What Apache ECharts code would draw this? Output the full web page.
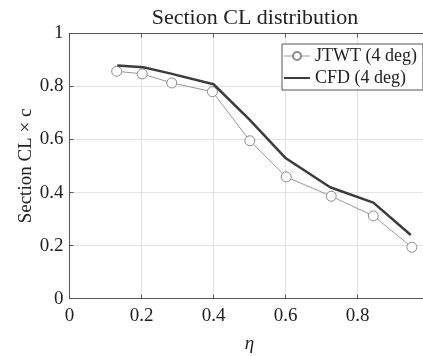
<!DOCTYPE html>
<html><head><meta charset="utf-8">
<script src="https://cdn.jsdelivr.net/npm/echarts@6/dist/echarts.min.js"></script>
<style>html,body{margin:0;padding:0;background:#fff}#c{width:423px;height:356px}</style>
</head><body><div id="c"></div>
<script>
const jtwtEta = [0.131, 0.202, 0.284, 0.397, 0.501, 0.602, 0.727, 0.844, 0.951];
const jtwtCL  = [0.857, 0.847, 0.813, 0.780, 0.595, 0.459, 0.386, 0.312, 0.194];
const cfdEta  = [0.133, 0.205, 0.279, 0.400, 0.500, 0.601, 0.724, 0.844, 0.948];
const cfdCL   = [0.879, 0.872, 0.849, 0.808, 0.675, 0.529, 0.420, 0.362, 0.240];
const xTicks = ['0', '0.2', '0.4', '0.6', '0.8', '1'];
const yTicks = ['0', '0.2', '0.4', '0.6', '0.8', '1'];

const FONT = '"Liberation Serif", "DejaVu Serif", serif';
const chart = echarts.init(document.getElementById('c'));
const axisCol = '#555';
const txt = '#222';
chart.setOption({
  animation: false,
  textStyle: { fontFamily: FONT },
  title: {
    text: 'Section CL distribution', left: 250, top: 2, textAlign: 'center',
    textStyle: { fontFamily: FONT, fontSize: 22, fontWeight: 'normal', color: txt }
  },
  legend: {
    orient: 'vertical', left: 282, top: 44, itemWidth: 26, itemHeight: 10, itemGap: 4,
    padding: [3, 6, 3, 1], borderColor: '#555', borderWidth: 1, backgroundColor: '#fff',
    textStyle: { fontFamily: FONT, fontSize: 18, color: txt },
    data: [
      { name: 'JTWT (4 deg)', lineStyle: { width: 1 } },
      { name: 'CFD (4 deg)', itemStyle: { opacity: 0 } }
    ]
  },
  grid: { left: 69.5, width: 360, top: 33.3, bottom: 57.3, outerBoundsMode: 'none', containLabel: false },
  xAxis: [{
    type: 'value', min: 0, max: 1, interval: 0.2,
    name: 'η', nameLocation: 'middle', nameGap: 36,
    nameTextStyle: { fontFamily: FONT, fontSize: 19, fontStyle: 'italic', color: txt },
    axisLine: { show: true, lineStyle: { color: axisCol } },
    axisTick: { show: true, inside: true, length: 4, lineStyle: { color: axisCol } },
    axisLabel: { fontFamily: FONT, fontSize: 19, color: txt, margin: 8,
      formatter: (v) => xTicks[Math.round(v / 0.2)] },
    splitLine: { show: true, lineStyle: { color: '#e3e3e3' } }
  }, {
    type: 'value', min: 0, max: 1, interval: 0.2, position: 'top',
    axisLine: { show: true, lineStyle: { color: axisCol } },
    axisTick: { show: true, inside: true, length: 4, lineStyle: { color: axisCol } },
    axisLabel: { show: false }, splitLine: { show: false }
  }],
  yAxis: {
    type: 'value', min: 0, max: 1, interval: 0.2,
    name: 'Section CL × c', nameLocation: 'middle', nameGap: 34, nameRotate: 90,
    nameMoveOverlap: false,
    nameTextStyle: { fontFamily: FONT, fontSize: 19, color: txt },
    axisLine: { show: true, lineStyle: { color: axisCol } },
    axisTick: { show: true, inside: true, length: 4, lineStyle: { color: axisCol } },
    axisLabel: { fontFamily: FONT, fontSize: 19, color: txt, margin: 6,
      formatter: (v) => yTicks[Math.round(v / 0.2)] },
    splitLine: { show: true, lineStyle: { color: '#e3e3e3' } }
  },
  series: [{
    name: 'JTWT (4 deg)', type: 'line', xAxisIndex: 0,
    data: jtwtEta.map((x, i) => [x, jtwtCL[i]]),
    symbol: 'circle', symbolSize: 10, showAllSymbol: true,
    lineStyle: { color: '#999', width: 1 },
    itemStyle: { color: '#fff', borderColor: '#8a8a8a', borderWidth: 1 },
    z: 2
  }, {
    name: 'CFD (4 deg)', type: 'line', xAxisIndex: 0,
    data: cfdEta.map((x, i) => [x, cfdCL[i]]),
    symbol: 'none', showSymbol: false,
    lineStyle: { color: '#3c3c3c', width: 2.5 },
    itemStyle: { color: '#3c3c3c' },
    z: 3
  }]
});
</script></body></html>
